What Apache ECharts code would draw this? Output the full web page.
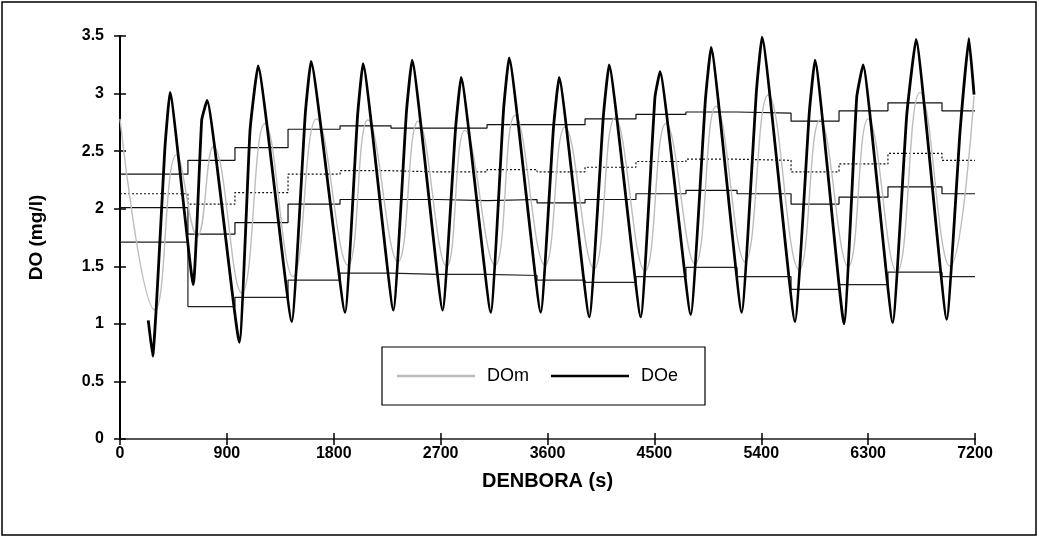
<!DOCTYPE html>
<html><head><meta charset="utf-8">
<script src="https://cdn.jsdelivr.net/npm/echarts@6/dist/echarts.min.js"></script>
<style>html,body{margin:0;padding:0;background:#fff}#c{width:1039px;height:538px}</style>
</head><body><div id="c"></div>
<script>
// ---- data ----
const xTicks = [0, 900, 1800, 2700, 3600, 4500, 5400, 6300, 7200];
const yTicks = [0, 0.5, 1, 1.5, 2, 2.5, 3, 3.5];
const seriesNames = ['DOm', 'DOe'];
// modelled DO (grey)
const DOm = [[0,2.78],[295,1.12],[477,2.47],[651,1.76],[786,2.54],[1025,1.27],[1221,2.74],[1457,1.41],[1656,2.78],[1920,1.51],[2088,2.77],[2341,1.54],[2510,2.76],[2751,1.50],[2905,2.68],[3158,1.51],[3326,2.81],[3579,1.51],[3747,2.71],[3992,1.48],[4168,2.79],[4421,1.46],[4598,2.74],[4842,1.52],[5019,2.89],[5263,1.54],[5459,2.99],[5720,1.47],[5895,2.77],[6133,1.50],[6301,2.78],[6541,1.45],[6737,3.01],[6989,1.50],[7192,2.98]];
// experimental DO (thick black)
const DOe = [[238,1.03],[275,0.72],[379,2.54],[421,3.01],[617,1.34],[688,2.77],[733,2.94],[1005,0.84],[1095,2.68],[1162,3.24],[1446,1.02],[1560,2.82],[1608,3.28],[1895,1.10],[2000,2.80],[2046,3.26],[2302,1.12],[2412,2.84],[2459,3.29],[2717,1.12],[2826,2.70],[2872,3.14],[3122,1.10],[3230,2.86],[3276,3.31],[3543,1.10],[3650,2.70],[3697,3.14],[3952,1.06],[4070,2.80],[4118,3.25],[4385,1.06],[4505,2.97],[4547,3.19],[4806,1.08],[4930,2.95],[4977,3.40],[5235,1.10],[5360,3.03],[5406,3.49],[5684,1.02],[5805,2.84],[5852,3.29],[6097,1.00],[6204,2.97],[6257,3.25],[6507,1.01],[6625,2.81],[6703,3.47],[6962,1.04],[7074,2.67],[7149,3.48],[7192,2.99]];
// step lines (per-cycle levels)
const stepX = [0, 572, 968, 1415, 1853, 2282, 2678, 3091, 3512, 3916, 4345, 4766, 5196, 5651, 6055, 6467, 6922, 7200];
const stepA = [2.30, 2.42, 2.53, 2.69, 2.72, 2.70, 2.70, 2.73, 2.73, 2.78, 2.82, 2.84, 2.83, 2.76, 2.85, 2.92, 2.85, 2.85];
const stepB = [2.13, 2.04, 2.14, 2.30, 2.33, 2.32, 2.32, 2.34, 2.32, 2.36, 2.41, 2.43, 2.42, 2.32, 2.39, 2.48, 2.42, 2.42];
const stepC = [2.01, 1.78, 1.88, 2.04, 2.08, 2.08, 2.07, 2.08, 2.05, 2.08, 2.13, 2.16, 2.13, 2.04, 2.10, 2.19, 2.13, 2.13];
const stepD = [1.71, 1.15, 1.23, 1.38, 1.44, 1.43, 1.43, 1.42, 1.38, 1.36, 1.41, 1.49, 1.41, 1.30, 1.34, 1.45, 1.41, 1.41];
const xName = 'DENBORA (s)';
const yName = 'DO (mg/l)';

// ---- chart ----
const F = 'Liberation Sans, Arial, sans-serif';
const zip = (xs, ys) => xs.map((x, i) => [x, ys[i]]);
const chart = echarts.init(document.getElementById('c'), null, {renderer: 'canvas'});
const xMin = xTicks[0], xMax = xTicks[xTicks.length-1], xInt = xTicks[1]-xTicks[0];
const yMin = yTicks[0], yMax = yTicks[yTicks.length-1], yInt = yTicks[1]-yTicks[0];
function stepSeries(arr, type, color){
  return {type:'line', step:'end', data: zip(stepX, arr), symbol:'none', silent:true,
    lineStyle:{color, width:1.2, type}, z:2};
}
chart.setOption({
  animation:false,
  grid:{left:120, right:64, top:36, bottom:99},
  legend:{
    data: [{name:seriesNames[0], icon:'rect', itemStyle:{color:'#bdbdbd'}},
           {name:seriesNames[1], icon:'rect', itemStyle:{color:'#000'}}],
    left:382, top:347, orient:'horizontal',
    padding:[19,27,19,15], itemGap:22, itemWidth:78, itemHeight:2.5,
    borderColor:'#000', borderWidth:1.2, backgroundColor:'#fff',
    textStyle:{fontFamily:F, fontSize:18, color:'#000', padding:[0,0,0,7], lineHeight:20}
  },
  xAxis:[
    {type:'value', min:xMin, max:xMax, interval:xInt,
     name:xName, nameLocation:'middle', nameGap:32,
     nameTextStyle:{fontFamily:F, fontSize:20, fontWeight:'bold', color:'#000'},
     axisLine:{lineStyle:{color:'#555', width:2}},
     axisTick:{length:6, lineStyle:{color:'#000', width:1.5}},
     axisLabel:{fontFamily:F, fontSize:16, fontWeight:'bold', color:'#000', margin:7,
       formatter:(v)=>String(v)},
     splitLine:{show:false}},
    {type:'value', min:xMin, max:xMax, interval:xInt, position:'bottom',
     axisLine:{show:false}, axisLabel:{show:false},
     axisTick:{inside:true, length:6, lineStyle:{color:'#000', width:1.5}}, splitLine:{show:false}}
  ],
  yAxis:[
    {type:'value', min:yMin, max:yMax, interval:yInt,
     name:yName, nameLocation:'middle', nameGap:74, nameRotate:90,
     nameTextStyle:{fontFamily:F, fontSize:19, fontWeight:'bold', color:'#000'},
     axisLine:{lineStyle:{color:'#000', width:2}},
     axisTick:{length:6, lineStyle:{color:'#000', width:1.5}},
     axisLabel:{fontFamily:F, fontSize:16, fontWeight:'bold', color:'#000', margin:16,
       formatter:(v)=>String(v)},
     splitLine:{show:false}},
    {type:'value', min:yMin, max:yMax, interval:yInt, position:'left',
     axisLine:{show:false}, axisLabel:{show:false},
     axisTick:{inside:true, length:6, lineStyle:{color:'#000', width:1.5}}, splitLine:{show:false}}
  ],
  graphic:[{type:'rect', shape:{x:2, y:2, width:1034, height:533}, silent:true,
    style:{fill:'none', stroke:'#000', lineWidth:1.5}, z:-1}],
  series:[
    stepSeries(stepA, 'solid', '#111'),
    stepSeries(stepB, [2,2], '#111'),
    stepSeries(stepC, 'solid', '#111'),
    stepSeries(stepD, 'solid', '#222'),
    {name:'DOm', type:'line', data:DOm, symbol:'none', smooth:0.45,
     lineStyle:{color:'#bdbdbd', width:1.4}, itemStyle:{color:'#bdbdbd'}, z:3},
    {name:'DOe', type:'line', data:DOe, symbol:'none', smooth:0.12,
     lineStyle:{color:'#000', width:2.8}, itemStyle:{color:'#000'}, z:4}
  ]
});
</script></body></html>
